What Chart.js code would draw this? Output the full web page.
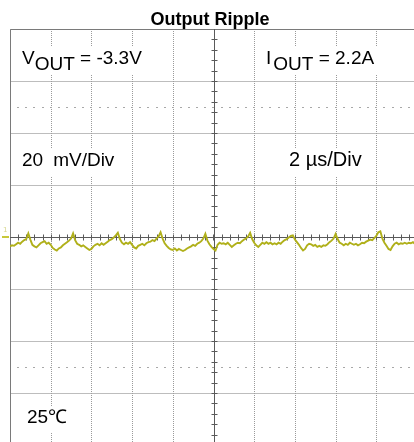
<!DOCTYPE html>
<html>
<head>
<meta charset="utf-8">
<script src="https://cdn.jsdelivr.net/npm/chart.js@4"></script>
<style>
html,body{margin:0;padding:0;background:#fff;overflow:hidden;}
#wrap{width:422px;height:450px;}
</style>
</head>
<body>
<div id="wrap"><canvas id="scope" width="422" height="450"></canvas></div>
<script>
const chartTitle = 'Output Ripple';
const xDivsUs = [0, 2, 4, 6, 8, 10, 12, 14, 16, 18, 20];
const yDivsMv = [-80, -60, -40, -20, 0, 20, 40, 60, 80];
const dottedRowsMv = [50, -50];
const minorPerDiv = 5;
const sampleStepUs = 0.1;

// ripple trace, mV, one value every 0.1 us
const rippleMv = [
  -3.6, -3.2, -3.4, -2.8, -2.2, -2.6, -1.8, -1.2, -0.8, 1.4,
  -1.0, -3.0, -3.6, -4.0, -3.2, -2.4, -2.0, -1.6, -2.6, -2.2,
  -3.0, -4.2, -4.8, -5.2, -4.4, -4.0, -3.2, -2.6, -2.0, -1.4,
  -0.6, 1.4, -1.2, -2.6, -3.0, -3.6, -3.2, -3.8, -4.4, -5.0,
  -4.6, -3.6, -3.0, -2.6, -3.2, -2.4, -3.0, -2.4, -1.8, -1.2,
  -0.8, -0.2, 0.6, 1.6, -0.8, -2.2, -2.8, -2.2, -2.6, -2.0,
  -3.0, -4.0, -4.4, -3.4, -3.0, -2.6, -3.2, -2.4, -2.0, -1.8,
  -1.2, -1.6, -0.6, 0.2, 1.8, -0.6, -2.4, -3.4, -4.2, -4.8,
  -5.0, -4.4, -5.2, -4.6, -5.0, -5.4, -5.0, -4.4, -4.0, -3.6,
  -3.0, -3.4, -2.6, -2.2, -1.6, -0.6, 1.2, -1.4, -2.8, -3.8,
  -4.6, -5.2, -3.0, -2.2, -2.6, -2.4, -2.8, -2.2, -3.0, -3.8,
  -3.2, -2.6, -2.2, -2.4, -1.6, -1.0, -0.6, 0.2, 1.6, -0.8,
  -2.2, -3.2, -3.8, -3.0, -2.2, -2.6, -2.0, -2.6, -2.2, -2.8,
  -2.4, -2.8, -2.2, -2.6, -1.8, -1.2, -0.8, -0.2, 0.4, 0.6,
  -1.0, -2.0, -3.0, -4.2, -5.2, -4.6, -3.2, -2.6, -2.8, -3.4,
  -3.0, -3.8, -3.4, -3.8, -3.2, -3.4, -2.8, -2.0, -1.4, -0.6,
  1.2, -0.8, -2.2, -2.6, -3.2, -2.6, -3.0, -2.2, -2.6, -3.0,
  -2.6, -3.2, -2.8, -2.2, -2.4, -1.8, -1.4, -1.0, -1.2, -0.4,
  0.4, 1.8, 2.2, -0.6, -2.2, -3.4, -4.6, -5.0, -3.6, -2.6,
  -2.2, -2.8, -2.4, -2.6, -2.2, -2.6, -2.2, -2.4, -2.0, -2.6,
  -2.2
];

const points = rippleMv.map((v, i) => ({x: i * sampleStepUs, y: v}));

function boxedText(ctx, parts, x, base) {
  // parts: [text, fontSize, baselineShift, gapBefore]
  let w = 0;
  parts.forEach(p => { ctx.font = p[1] + 'px "Liberation Sans", Arial, sans-serif'; w += ctx.measureText(p[0]).width + (p[3] || 0); });
  ctx.fillStyle = '#fff';
  ctx.fillRect(x - 4, base - 17, w + 8, 27);
  ctx.fillStyle = '#000';
  let cx = x;
  parts.forEach(p => {
    ctx.font = p[1] + 'px "Liberation Sans", Arial, sans-serif';
    cx += p[3] || 0;
    ctx.fillText(p[0], cx, base + p[2]);
    cx += ctx.measureText(p[0]).width;
  });
}

const scopeDeco = {
  id: 'scopeDeco',
  beforeDatasetsDraw(chart) {
    const {ctx, chartArea: a, scales: {x, y}} = chart;
    ctx.save();
    ctx.lineWidth = 1;

    // horizontal division lines
    ctx.strokeStyle = '#bdbdbd';
    yDivsMv.forEach(v => {
      if (v === 0) return;
      const py = Math.round(y.getPixelForValue(v)) + 0.5;
      ctx.beginPath(); ctx.moveTo(a.left, py); ctx.lineTo(a.right, py); ctx.stroke();
    });

    // vertical dotted division lines
    ctx.strokeStyle = '#9a9a9a';
    ctx.setLineDash([1, 1]);
    xDivsUs.forEach(v => {
      if (v === 0 || v === 10 || v === 20) return;
      const px = Math.round(x.getPixelForValue(v)) + 0.5;
      ctx.beginPath(); ctx.moveTo(px, a.top); ctx.lineTo(px, a.bottom); ctx.stroke();
    });
    ctx.setLineDash([]);

    // dotted rows
    const stepX = (x.getPixelForValue(2) - x.getPixelForValue(0)) / minorPerDiv;
    ctx.fillStyle = '#a8a8a8';
    dottedRowsMv.forEach(v => {
      const py = Math.round(y.getPixelForValue(v));
      for (let px = a.left + stepX; px < a.right; px += stepX) {
        ctx.fillRect(Math.round(px) - 1, py, 2, 1);
      }
    });

    // labels with white background
    ctx.textBaseline = 'alphabetic';
    boxedText(ctx, [['V', 19, 0], ['OUT', 19, 6], [' = -3.3V', 19, 0]], 22, 64);
    boxedText(ctx, [['I', 19, 0], ['OUT', 19, 6, 2], [' = 2.2A', 19, 0]], 266, 64);
    boxedText(ctx, [['20', 19, 0], ['mV/Div', 19, 0, 10]], 22, 166);
    boxedText(ctx, [['2 \u00b5s/Div', 20, 0]], 289, 166);
    boxedText(ctx, [['25\u2103', 19, 0]], 27, 423);

    // borders
    ctx.strokeStyle = '#7a7a7a';
    ctx.beginPath();
    ctx.moveTo(a.left + 0.5, a.bottom); ctx.lineTo(a.left + 0.5, a.top + 0.5); ctx.lineTo(a.right, a.top + 0.5);
    ctx.stroke();

    // centre axes with minor ticks
    const cx = Math.round(x.getPixelForValue(10)) + 0.5;
    const cy = Math.round(y.getPixelForValue(0)) + 0.5;
    ctx.strokeStyle = '#5a5a5a';
    ctx.beginPath();
    ctx.moveTo(a.left, cy); ctx.lineTo(a.right, cy);
    ctx.moveTo(cx, a.top); ctx.lineTo(cx, a.bottom);
    ctx.stroke();
    const stepY = (y.getPixelForValue(0) - y.getPixelForValue(20)) / minorPerDiv;
    ctx.beginPath();
    for (let px = a.left + stepX; px < a.right; px += stepX) {
      const rx = Math.round(px) + 0.5;
      ctx.moveTo(rx, cy - 3); ctx.lineTo(rx, cy + 3);
    }
    for (let py = a.top + stepY; py < a.bottom; py += stepY) {
      const ry = Math.round(py) + 0.5;
      ctx.moveTo(cx - 3, ry); ctx.lineTo(cx + 3, ry);
    }
    ctx.stroke();

    // channel marker
    ctx.fillStyle = '#c8c83a';
    ctx.fillRect(2, cy - 1.5, 7, 2);
    ctx.font = '7px "DejaVu Sans", sans-serif';
    ctx.fillStyle = '#d6d68a';
    ctx.fillText('1', 3, cy - 6);

    // title
    ctx.fillStyle = '#000';
    ctx.font = 'bold 18px "Liberation Sans", Arial, sans-serif';
    ctx.textAlign = 'center';
    ctx.fillText(chartTitle, 210, 25);
    ctx.restore();
  }
};

new Chart(document.getElementById('scope'), {
  type: 'line',
  data: {
    datasets: [{
      data: points,
      borderColor: '#b0b01a',
      borderWidth: 1.9,
      pointRadius: 0,
      tension: 0
    }]
  },
  options: {
    responsive: false,
    animation: false,
    layout: {padding: {left: 10, top: 29, right: 5, bottom: 5}},
    scales: {
      x: {type: 'linear', min: 0, max: 20, display: false},
      y: {type: 'linear', min: -80, max: 80, display: false}
    },
    plugins: {legend: {display: false}, tooltip: {enabled: false}, title: {display: false}}
  },
  plugins: [scopeDeco]
});
</script>
</body>
</html>
